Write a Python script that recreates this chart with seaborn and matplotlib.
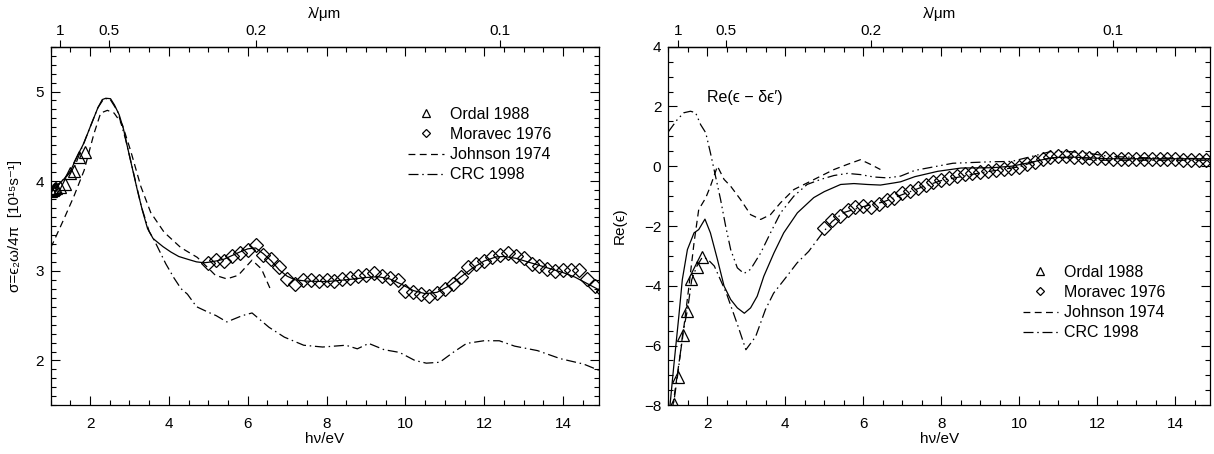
import numpy as np
import matplotlib
matplotlib.use("Agg")
import matplotlib.pyplot as plt
from matplotlib.ticker import MultipleLocator, NullLocator, FixedLocator
from matplotlib.lines import Line2D
import seaborn as sns

plt.rcParams['font.family'] = ['Liberation Sans', 'DejaVu Sans']
plt.rcParams['font.size'] = 11

# ---------------- left panel: sigma ----------------
E_model_sig = [1.0, 1.05, 1.2, 1.35, 1.51, 1.7, 1.85, 2.0, 2.1, 2.2, 2.31, 2.4, 2.52, 2.62,
               2.74, 2.85, 2.95, 3.08, 3.2, 3.33, 3.46, 3.6, 3.71, 3.85, 4.05, 4.25, 4.47,
               4.7, 4.89, 5.0, 5.2, 5.4, 5.6, 5.8, 6.0, 6.2, 6.4, 6.6, 6.8, 7.0, 7.2, 7.5,
               8.0, 8.5, 9.0, 9.3, 9.6, 9.9, 10.2, 10.5, 10.8, 11.1, 11.4, 11.7, 12.0, 12.3,
               12.5, 12.8, 13.1, 13.4, 13.7, 14.0, 14.3, 14.6, 14.9]
sig_model = [3.89, 3.905, 3.96, 4.03, 4.12, 4.30, 4.43, 4.60, 4.71, 4.82, 4.91, 4.925, 4.92,
             4.85, 4.74, 4.58, 4.38, 4.13, 3.90, 3.67, 3.47, 3.36, 3.32, 3.27, 3.21, 3.16,
             3.13, 3.10, 3.09, 3.095, 3.11, 3.13, 3.17, 3.21, 3.245, 3.255, 3.19, 3.11, 3.01,
             2.94, 2.90, 2.885, 2.88, 2.90, 2.925, 2.935, 2.91, 2.85, 2.78, 2.745, 2.76, 2.83,
             2.93, 3.03, 3.11, 3.155, 3.16, 3.14, 3.10, 3.06, 3.02, 2.98, 2.93, 2.86, 2.79]

E_john_sig = [1.0, 1.05, 1.34, 1.59, 1.85, 2.1, 2.27, 2.44, 2.61, 2.82, 3.03, 3.29, 3.54,
              3.88, 4.3, 4.72, 5.0, 5.18, 5.47, 5.76, 6.11, 6.35, 6.59]
sig_john = [3.26, 3.30, 3.58, 3.83, 4.12, 4.53, 4.76, 4.79, 4.76, 4.63, 4.34, 3.94, 3.65,
            3.43, 3.26, 3.15, 3.03, 2.95, 2.91, 2.95, 3.12, 3.02, 2.78]

E_crc_sig = [1.0, 1.2, 1.4, 1.6, 1.8, 2.0, 2.2, 2.35, 2.5, 2.7, 2.9, 3.1, 3.3, 3.5, 3.63,
             3.92, 4.13, 4.31, 4.47, 4.7, 4.99, 5.2, 5.47, 5.86, 6.11, 6.54, 6.93, 7.42,
             7.9, 8.49, 8.78, 9.07, 9.46, 9.85, 10.24, 10.53, 10.87, 11.21, 11.55, 11.99,
             12.38, 12.77, 13.35, 13.93, 14.52, 14.91]
sig_crc = [3.92, 3.97, 4.05, 4.15, 4.38, 4.60, 4.82, 4.92, 4.92, 4.78, 4.47, 4.10, 3.72,
           3.44, 3.34, 3.08, 2.92, 2.80, 2.74, 2.60, 2.54, 2.50, 2.43, 2.50, 2.53, 2.37,
           2.26, 2.17, 2.15, 2.17, 2.13, 2.19, 2.12, 2.09, 2.00, 1.97, 1.98, 2.09, 2.19,
           2.22, 2.22, 2.16, 2.11, 2.02, 1.96, 1.89]

E_ordal = [1.02, 1.05, 1.08, 1.11, 1.14, 1.24, 1.37, 1.49, 1.59, 1.73, 1.87]
sig_ordal = [3.89, 3.90, 3.91, 3.92, 3.92, 3.94, 3.97, 4.09, 4.11, 4.27, 4.33]
re_ordal = [-10.6, -9.9, -9.2, -8.6, -7.95, -7.05, -5.65, -4.85, -3.78, -3.38, -3.04]

E_mor = [5.0, 5.2, 5.4, 5.6, 5.8, 6.0, 6.2, 6.4, 6.6, 6.8, 7.0, 7.2, 7.4, 7.6, 7.8, 8.0,
         8.2, 8.4, 8.6, 8.8, 9.0, 9.2, 9.4, 9.6, 9.8, 10.0, 10.2, 10.4, 10.6, 10.8, 11.0,
         11.2, 11.4, 11.6, 11.8, 12.0, 12.2, 12.4, 12.6, 12.8, 13.0, 13.2, 13.4, 13.6,
         13.8, 14.0, 14.2, 14.4, 14.6, 14.8, 15.0]
sig_mor = [3.086, 3.116, 3.105, 3.16, 3.197, 3.234, 3.283, 3.171, 3.134, 3.041, 2.904,
           2.849, 2.893, 2.90, 2.882, 2.893, 2.882, 2.911, 2.922, 2.937, 2.949, 2.974,
           2.937, 2.922, 2.893, 2.774, 2.763, 2.744, 2.715, 2.755, 2.80, 2.855, 2.93,
           3.041, 3.071, 3.105, 3.153, 3.171, 3.20, 3.16, 3.145, 3.078, 3.049, 3.022,
           2.997, 3.011, 3.004, 3.004, 2.911, 2.83, 2.774]
re_mor = [-2.07, -1.81, -1.67, -1.45, -1.36, -1.34, -1.36, -1.28, -1.14, -1.06, -0.91,
          -0.82, -0.72, -0.62, -0.53, -0.45, -0.39, -0.33, -0.27, -0.22, -0.18, -0.15,
          -0.12, -0.09, -0.06, -0.02, 0.06, 0.15, 0.24, 0.30, 0.33, 0.34, 0.32, 0.30,
          0.29, 0.27, 0.26, 0.25, 0.25, 0.24, 0.24, 0.24, 0.23, 0.23, 0.23, 0.23, 0.22,
          0.22, 0.22, 0.22, 0.22]

# ---------------- right panel: Re(eps) ----------------
E_model_re = [1.0, 1.14, 1.27, 1.36, 1.49, 1.66, 1.78, 1.94, 2.08, 2.26, 2.43, 2.60, 2.77,
              2.95, 3.11, 3.28, 3.45, 3.71, 3.96, 4.31, 4.73, 5.0, 5.42, 5.76, 6.10, 6.44,
              6.78, 6.96, 7.32, 7.91, 8.51, 9.31, 9.8, 10.3, 10.8, 11.3, 12.3, 15.0]
re_model = [-8.6, -6.69, -5.02, -3.79, -2.79, -2.23, -2.12, -1.77, -2.23, -3.12, -4.01,
            -4.46, -4.74, -4.92, -4.74, -4.35, -3.68, -2.90, -2.23, -1.56, -1.05, -0.85,
            -0.61, -0.58, -0.61, -0.63, -0.56, -0.52, -0.35, -0.17, -0.06, -0.05, 0.0,
            0.13, 0.28, 0.31, 0.25, 0.25]

E_john_re = [1.08, 1.14, 1.36, 1.53, 1.66, 1.78, 1.96, 2.08, 2.26, 2.43, 2.60, 2.85, 3.11,
             3.37, 3.62, 3.88, 4.22, 4.56, 4.91, 5.25, 5.59, 5.93, 6.19, 6.44]
re_john = [-8.4, -7.8, -5.80, -4.01, -2.56, -1.45, -1.06, -0.67, 0.0, -0.44, -0.67,
           -1.11, -1.62, -1.78, -1.62, -1.22, -0.78, -0.56, -0.33, -0.11, 0.06, 0.22,
           0.06, -0.11]

E_delta = [1.0, 1.23, 1.40, 1.57, 1.70, 1.83, 1.96, 2.08, 2.21, 2.34, 2.47, 2.60, 2.77,
           2.94, 3.11, 3.37, 3.62, 3.88, 4.22, 4.56, 4.91, 5.25, 5.59, 5.93, 6.27, 6.62,
           6.96, 7.32, 8.3, 9.3, 9.8, 10.3, 10.8, 11.3, 11.8, 12.3, 13.3, 15.0]
re_delta = [1.15, 1.56, 1.79, 1.84, 1.79, 1.39, 1.12, 0.45, -0.33, -1.11, -2.0, -2.79,
            -3.40, -3.59, -3.45, -2.90, -2.23, -1.56, -1.0, -0.61, -0.44, -0.31, -0.24,
            -0.28, -0.36, -0.39, -0.33, -0.14, 0.10, 0.15, 0.16, 0.32, 0.49, 0.49, 0.43,
            0.33, 0.28, 0.25]

E_crc_re = [1.05, 1.14, 1.25, 1.37, 1.5, 1.6, 1.73, 1.87, 2.0, 2.18, 2.49, 2.79, 2.99,
            3.24, 3.49, 3.70, 4.0, 4.30, 4.60, 4.95, 5.2, 5.5, 6.0, 6.5, 7.0, 7.5, 8.0,
            9.0, 10.0, 10.5, 11.0, 11.5, 12.0, 13.0, 15.0]
re_crc = [-9.0, -7.9, -6.9, -5.6, -4.75, -3.8, -3.35, -3.05, -3.1, -3.34, -4.25, -5.36,
          -6.14, -5.70, -4.80, -4.25, -3.75, -3.24, -2.85, -2.24, -1.85, -1.55, -1.35,
          -1.2, -0.95, -0.7, -0.48, -0.22, -0.02, 0.2, 0.3, 0.27, 0.2, 0.2, 0.2]

lam_ticks = [1, 0.5, 0.2, 0.1]
lam_labels = ['1', '0.5', '0.2', '0.1']
legend_labels = ['Ordal 1988', 'Moravec 1976', 'Johnson 1974', 'CRC 1998']

LW = 0.9
DASH = (0, (5.5, 3.5))
DASHDOT = (0, (8, 3, 1.2, 3))
DASHDOTDOT = (0, (8, 3, 1.2, 3, 1.2, 3))

W, H = 1214, 454
fig = plt.figure(figsize=(W / 100, H / 100), dpi=100)
axL = fig.add_axes([50.6 / W, 1 - 405.3 / H, 548 / W, 358.6 / H])
axR = fig.add_axes([668.3 / W, 1 - 405.3 / H, 542 / W, 358.6 / H])


def line(ax, x, y, ls):
    sns.lineplot(x=x, y=y, ax=ax, color='k', lw=LW, linestyle=ls,
                 estimator=None, sort=False)


def marks(ax, x, y, m, ms):
    sns.lineplot(x=x, y=y, ax=ax, color='k', linestyle='', marker=m, ms=ms,
                 markerfacecolor='none', markeredgecolor='k', markeredgewidth=0.9,
                 estimator=None, sort=False)


# left
line(axL, E_model_sig, sig_model, '-')
line(axL, E_john_sig, sig_john, DASH)
line(axL, E_crc_sig, sig_crc, DASHDOT)
marks(axL, E_ordal, sig_ordal, '^', 8)
marks(axL, E_mor, sig_mor, 'D', 6.8)

# right
line(axR, E_model_re, re_model, '-')
line(axR, E_john_re, re_john, DASH)
line(axR, E_crc_re, re_crc, DASHDOT)
line(axR, E_delta, re_delta, DASHDOTDOT)
marks(axR, E_ordal, re_ordal, '^', 8)
marks(axR, E_mor, re_mor, 'D', 6.8)

axL.set_ylim(1.5, 5.5)
axR.set_ylim(-8.0, 4.0)
axL.yaxis.set_major_locator(MultipleLocator(1))
axL.yaxis.set_minor_locator(MultipleLocator(0.1))
axR.yaxis.set_major_locator(MultipleLocator(2))
axR.yaxis.set_minor_locator(MultipleLocator(0.5))


def e2l(E):
    E = np.asarray(E, dtype=float)
    with np.errstate(divide='ignore', invalid='ignore'):
        return 1.2398 / E


for ax in (axL, axR):
    ax.set_xlim(1.0, 14.9)
    ax.xaxis.set_major_locator(MultipleLocator(2))
    ax.xaxis.set_minor_locator(MultipleLocator(0.5))
    ax.tick_params(which='both', direction='in', top=True, right=True,
                   labeltop=False, width=0.8, labelsize=11)
    ax.tick_params(which='major', length=6.5)
    ax.tick_params(which='minor', length=3.3)
    ax.tick_params(axis='x', pad=8.5)
    ax.tick_params(axis='y', pad=5)
    for s in ax.spines.values():
        s.set_linewidth(0.9)
    ax.set_xlabel('hν/eV', fontsize=11, labelpad=1)
    sec = ax.secondary_xaxis('top', functions=(e2l, e2l))
    sec.xaxis.set_major_locator(FixedLocator(lam_ticks))
    sec.set_xticklabels(lam_labels)
    sec.xaxis.set_minor_locator(NullLocator())
    sec.tick_params(direction='out', length=5, width=0.8, pad=1.5, labelsize=11)
    sec.spines['top'].set_linewidth(0.9)
    sec.set_xlabel('λ/μm', fontsize=11, labelpad=4)

axL.set_ylabel('σ=ϵ₂ω/4π  [10¹⁵s⁻¹]', fontsize=11)
axL.yaxis.set_label_coords(-0.052, 0.5)
axR.set_ylabel('Re(ϵ)', fontsize=11)
axR.yaxis.set_label_coords(-0.076, 0.5)

axR.text(2.0, 2.3, 'Re(ϵ − δϵ′)', fontsize=11.5, ha='left', va='center')

handles = [Line2D([], [], color='k', ls='', marker='^', ms=6, mfc='none', mew=0.9),
           Line2D([], [], color='k', ls='', marker='D', ms=4.5, mfc='none', mew=0.9),
           Line2D([], [], color='k', ls=DASH, lw=LW),
           Line2D([], [], color='k', ls=DASHDOT, lw=LW)]

for ax, anchor in ((axL, (0.653, 0.832)), (axR, (0.654, 0.3915))):
    ax.legend(handles, legend_labels, loc='upper left', bbox_to_anchor=anchor,
              frameon=False, borderaxespad=0, borderpad=0, handlelength=2.2,
              handletextpad=0.4, labelspacing=0.32, fontsize=11.5)

fig.savefig('out.png', dpi=100)
